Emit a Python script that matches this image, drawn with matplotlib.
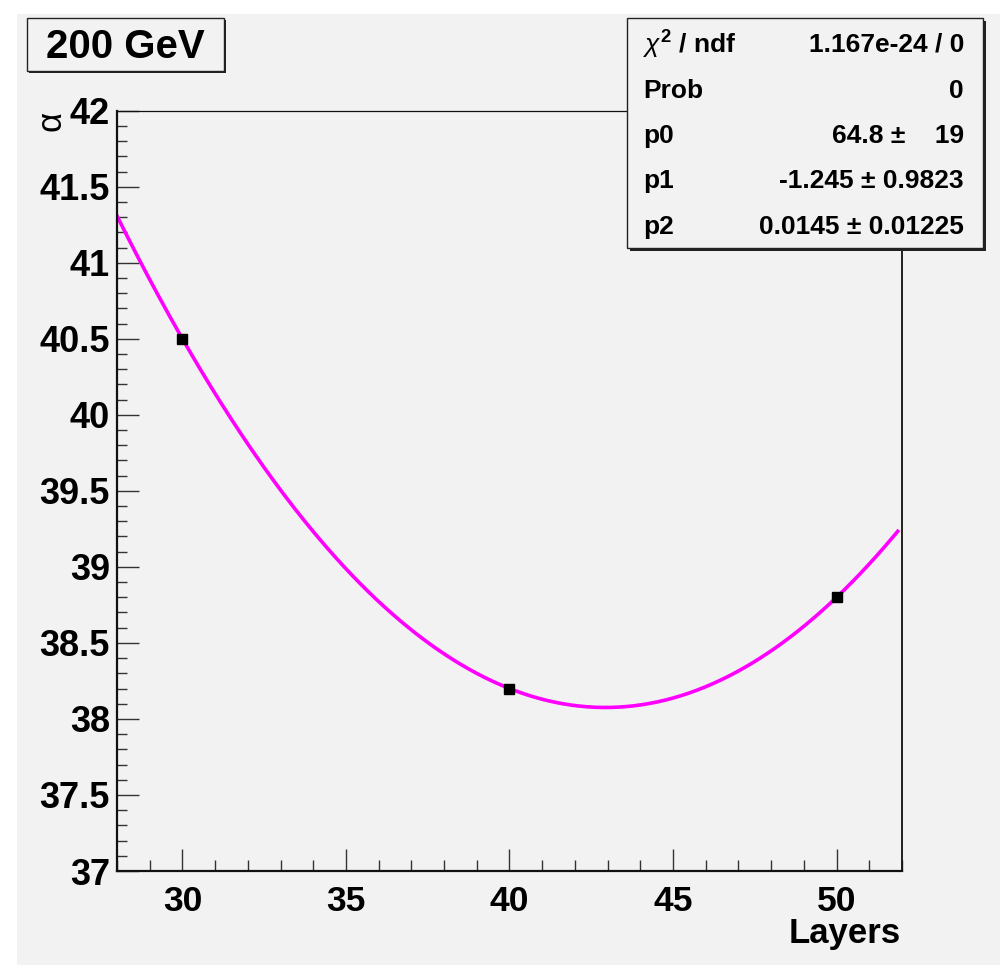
#!/usr/bin/env python3
# -*- coding: utf-8 -*-
"""
alpha vs number of layers at 200 GeV, with pol2 fit (ROOT-style look)
"""

import matplotlib
matplotlib.use('Agg')
import matplotlib.pyplot as plt
import numpy as np
from matplotlib.patches import Rectangle
from matplotlib.ticker import MultipleLocator, FuncFormatter

plt.rcParams['font.family'] = ['Liberation Sans', 'DejaVu Sans']
plt.rcParams['mathtext.fontset'] = 'custom'
plt.rcParams['mathtext.rm'] = 'Liberation Sans'
plt.rcParams['mathtext.it'] = 'Liberation Sans:italic'
plt.rcParams['mathtext.bf'] = 'Liberation Sans:bold'

# Data
layers = [30, 40, 50]
alpha = [40.5, 38.2, 38.8]

# Fit parameters (pol2) and stats box
fit_params = [64.8, -1.245, 0.0145]
fit_range = [28.0, 51.87]
stat_names = [r'$\chi^{\mathbf{2}}$ / ndf', 'Prob', 'p0', 'p1', 'p2']
stat_values = ['1.167e-24 / 0', '0', '64.8 \u00b1    19',
               '-1.245 \u00b1 0.9823', '0.0145 \u00b1 0.01225']

bg = '#f2f2f2'

fig = plt.figure(figsize=(10, 9.65), dpi=100, facecolor='white')
# grey canvas (screenshot has a white strip at top/left)
fig.patches.append(Rectangle((17 / 1000, 0), 1, (965 - 14) / 965,
                             transform=fig.transFigure, facecolor=bg,
                             edgecolor='none', zorder=-10))

ax = fig.add_axes([0.117, 0.0974, 0.785, 0.7879])
ax.set_facecolor(bg)

# fit curve
xf = np.linspace(fit_range[0], fit_range[1], 300)
yf = fit_params[0] + fit_params[1] * xf + fit_params[2] * xf ** 2
ax.plot(xf, yf, color='#ff00ff', linewidth=2.6, zorder=2)

# data points
ax.plot(layers, alpha, linestyle='none', marker='s', markersize=7,
        color='black', zorder=3)

ax.set_xlim(28, 52)
ax.set_ylim(37, 42)

ax.xaxis.set_major_locator(MultipleLocator(5))
ax.xaxis.set_minor_locator(MultipleLocator(1))
ax.yaxis.set_major_locator(MultipleLocator(0.5))
ax.yaxis.set_minor_locator(MultipleLocator(0.1))
ax.yaxis.set_major_formatter(FuncFormatter(lambda v, p: f'{v:g}'))

ax.tick_params(axis='both', which='both', direction='in', width=1.0,
               color='#333333')
ax.tick_params(axis='x', which='major', length=16, pad=10, labelsize=25.5)
ax.tick_params(axis='x', which='minor', length=8)
ax.tick_params(axis='y', which='major', length=16, pad=5, labelsize=26)
ax.tick_params(axis='y', which='minor', length=7.5)
for lab in ax.get_xticklabels() + ax.get_yticklabels():
    lab.set_fontweight('bold')

ax.spines['left'].set_linewidth(1.6)
ax.spines['bottom'].set_linewidth(1.6)
ax.spines['right'].set_linewidth(1.3)
ax.spines['top'].set_linewidth(0.9)
for spine in ax.spines.values():
    spine.set_edgecolor('#111111')

# axis titles
fig.text(0.051, 1 - 121 / 965, '\u03b1', rotation=90, fontsize=25,
         ha='center', va='center')
fig.text(0.901, 1 - 933 / 965, 'Layers', fontsize=25, fontweight='bold',
         ha='right', va='center')

# title box
fig.patches.append(Rectangle((29 / 1000, 1 - 73 / 965), 197 / 1000, 53 / 965,
                             transform=fig.transFigure, facecolor='#222222',
                             edgecolor='none', zorder=5))
fig.patches.append(Rectangle((27 / 1000, 1 - 71 / 965), 197 / 1000, 53 / 965,
                             transform=fig.transFigure, facecolor=bg,
                             edgecolor='#222222', linewidth=1.0, zorder=6))
fig.text(125 / 1000, 1 - 47 / 965, '200 GeV', fontsize=29, fontweight='bold',
         ha='center', va='center', zorder=7)

# stats box
fig.patches.append(Rectangle((630 / 1000, 1 - 251 / 965), 356 / 1000, 230 / 965,
                             transform=fig.transFigure, facecolor='#222222',
                             edgecolor='none', zorder=5))
fig.patches.append(Rectangle((627 / 1000, 1 - 248 / 965), 356 / 1000, 230 / 965,
                             transform=fig.transFigure, facecolor=bg,
                             edgecolor='#222222', linewidth=1.0, zorder=6))
row_y = [45, 91, 136, 181, 227]
for name, val, ry in zip(stat_names, stat_values, row_y):
    fig.text(643 / 1000, 1 - ry / 965, name, fontsize=19, fontweight='bold',
             ha='left', va='center', zorder=7)
    fig.text(964 / 1000, 1 - ry / 965, val, fontsize=19, fontweight='bold',
             ha='right', va='center', zorder=7)

fig.savefig('out.png', dpi=100, facecolor='white')
